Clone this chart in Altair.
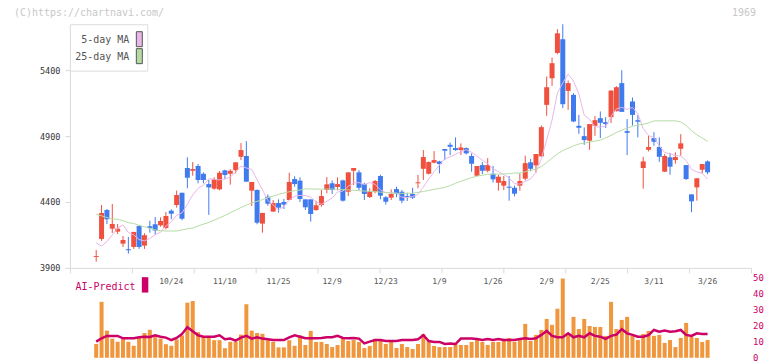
import altair as alt
import pandas as pd

# ---------------- data ----------------
opens = [3983, 4120, 4339, 4198, 4175, 4084, 4042, 4059, 4218, 4069,
         4216, 4231, 4223, 4203, 4334, 4377, 4470, 4658, 4637, 4673,
         4614, 4536, 4501, 4496, 4640, 4614, 4642, 4743, 4749, 4486,
         4491, 4236, 4440, 4327, 4392, 4400, 4415, 4574, 4562, 4420,
         4420, 4339, 4377, 4491, 4542, 4514, 4564, 4478, 4637, 4625,
         4536, 4438, 4478, 4597, 4436, 4433, 4498, 4478, 4445, 4461,
         4542, 4652, 4614, 4698, 4708, 4802, 4834, 4809, 4794, 4809,
         4749, 4599, 4680, 4637, 4614, 4546, 4524, 4516, 4508, 4524,
         4577, 4701, 4678, 4746, 5137, 5339, 5531, 5635, 5243, 5213,
         4978, 4900, 4865, 4978, 5036, 5006, 5044, 5089, 5302, 4938,
         5163, 5021, 4658, 4796, 4885, 4817, 4630, 4739, 4718, 4804,
         4680, 4458, 4511, 4645, 4708]
highs = [4036, 4377, 4347, 4385, 4233, 4142, 4135, 4173, 4223, 4163,
         4258, 4286, 4284, 4324, 4345, 4486, 4470, 4739, 4703, 4688,
         4625, 4567, 4587, 4635, 4645, 4648, 4701, 4847, 4862, 4552,
         4496, 4317, 4458, 4415, 4420, 4423, 4622, 4595, 4587, 4420,
         4420, 4410, 4491, 4589, 4564, 4587, 4569, 4625, 4658, 4642,
         4546, 4504, 4567, 4607, 4445, 4496, 4516, 4491, 4470, 4508,
         4605, 4794, 4708, 4786, 4713, 4802, 4852, 4890, 4845, 4814,
         4769, 4673, 4703, 4733, 4673, 4605, 4597, 4597, 4524, 4617,
         4751, 4726, 4764, 4981, 5352, 5496, 5711, 5749, 5322, 5226,
         5061, 4966, 4991, 5052, 5087, 5044, 5249, 5279, 5400, 5029,
         5193, 5059, 4743, 4902, 4930, 4890, 4764, 4773, 4777, 4915,
         4680, 4458, 4580, 4688, 4716]
lows = [3948, 4105, 4233, 4165, 4158, 4059, 4008, 4044, 4044, 4044,
        4167, 4152, 4213, 4193, 4269, 4357, 4261, 4504, 4599, 4542,
        4542, 4302, 4493, 4489, 4572, 4531, 4617, 4718, 4554, 4370,
        4231, 4167, 4372, 4324, 4319, 4347, 4415, 4516, 4400, 4339,
        4251, 4334, 4364, 4466, 4461, 4489, 4403, 4445, 4529, 4491,
        4415, 4430, 4466, 4420, 4380, 4415, 4436, 4390, 4408, 4423,
        4504, 4567, 4610, 4693, 4617, 4718, 4756, 4789, 4756, 4761,
        4630, 4597, 4612, 4625, 4549, 4486, 4491, 4410, 4443, 4486,
        4564, 4633, 4622, 4746, 5054, 5281, 5521, 5112, 5099, 5006,
        4917, 4834, 4796, 4902, 4885, 4961, 4999, 5087, 5084, 4756,
        4981, 4890, 4501, 4784, 4827, 4705, 4627, 4607, 4690, 4751,
        4567, 4322, 4410, 4615, 4610]
closes = [3990, 4317, 4269, 4233, 4198, 4112, 4034, 4173, 4059, 4148,
          4203, 4183, 4256, 4294, 4311, 4453, 4273, 4584, 4650, 4567,
          4567, 4511, 4572, 4622, 4605, 4637, 4701, 4794, 4554, 4552,
          4243, 4317, 4387, 4392, 4357, 4380, 4552, 4536, 4423, 4360,
          4309, 4375, 4445, 4534, 4491, 4536, 4410, 4625, 4658, 4508,
          4461, 4483, 4559, 4448, 4402, 4461, 4461, 4410, 4438, 4433,
          4549, 4741, 4703, 4718, 4688, 4789, 4819, 4794, 4814, 4769,
          4690, 4673, 4637, 4680, 4572, 4592, 4559, 4508, 4463, 4559,
          4695, 4652, 4764, 4968, 5271, 5453, 5680, 5142, 5302, 5011,
          4963, 4870, 4991, 5021, 5001, 4991, 5245, 5271, 5084, 4925,
          5061, 5009, 4708, 4817, 4857, 4743, 4749, 4668, 4741, 4845,
          4574, 4405, 4580, 4688, 4625]
ma5 = [4090, 4065, 4100, 4150, 4201, 4226, 4169, 4150, 4115, 4105,
       4123, 4153, 4170, 4217, 4249, 4299, 4317, 4383, 4454, 4505,
       4528, 4576, 4573, 4568, 4575, 4589, 4627, 4672, 4658, 4648,
       4569, 4492, 4411, 4378, 4339, 4367, 4414, 4443, 4450, 4450,
       4436, 4401, 4382, 4405, 4431, 4476, 4483, 4519, 4544, 4547,
       4532, 4547, 4534, 4492, 4471, 4471, 4466, 4436, 4434, 4441,
       4458, 4514, 4573, 4629, 4680, 4728, 4743, 4762, 4781, 4797,
       4777, 4748, 4717, 4690, 4650, 4631, 4608, 4582, 4539, 4536,
       4557, 4575, 4627, 4728, 4870, 5022, 5227, 5303, 5370, 5318,
       5220, 5058, 5027, 4971, 4969, 4975, 5050, 5106, 5118, 5103,
       5117, 5070, 4957, 4904, 4890, 4827, 4775, 4767, 4752, 4749,
       4715, 4647, 4629, 4618, 4574]
ma25 = [4307, 4295, 4282, 4272, 4269, 4258, 4243, 4237, 4222, 4212,
        4200, 4188, 4183, 4180, 4180, 4180, 4188, 4196, 4203, 4218,
        4232, 4245, 4262, 4280, 4298, 4318, 4338, 4358, 4376, 4393,
        4405, 4418, 4432, 4445, 4458, 4468, 4478, 4486, 4491, 4500,
        4499, 4498, 4498, 4498, 4498, 4497, 4494, 4492, 4489, 4486,
        4483, 4480, 4478, 4475, 4471, 4468, 4466, 4466, 4466, 4467,
        4473, 4480, 4488, 4496, 4503, 4510, 4525, 4542, 4557, 4572,
        4585, 4596, 4603, 4610, 4611, 4612, 4613, 4615, 4620, 4620,
        4630, 4640, 4650, 4668, 4700, 4733, 4765, 4790, 4808, 4826,
        4840, 4847, 4855, 4862, 4870, 4887, 4905, 4928, 4945, 4960,
        4975, 4982, 4990, 5000, 5015, 5016, 5016, 5016, 5016, 5008,
        4980, 4942, 4910, 4885, 4860]
volume = [8.6, 35, 17, 12, 10, 12, 10, 7.5, 13, 15.5,
          17.5, 13.5, 12, 8.5, 7.5, 11.5, 14, 34.5, 35.5, 16,
          13, 13.5, 11, 11, 6, 10, 10, 14.5, 33.5, 17,
          15.5, 15, 11, 10, 6.5, 6.5, 11, 7.5, 14, 8,
          16.8, 9.9, 9.9, 8.6, 6.7, 8, 11.8, 10.5, 11.1, 9.9,
          6.1, 7.4, 11.8, 11.1, 8.6, 9.9, 6.1, 8.6, 6.7, 5.5,
          8.6, 14.9, 10.5, 7.4, 6.7, 6.7, 6.7, 8.6, 8, 8,
          9.9, 11.1, 9.9, 8, 9.9, 9.9, 11.1, 12.4, 9.9, 11.1,
          21.2, 10.5, 14.3, 17.4, 24.3, 20.6, 30.7, 49.6, 14.9, 25.6,
          18, 24.3, 19.9, 19.3, 19.3, 13.7, 35, 18, 23.7, 25.6,
          13.7, 11.1, 14.9, 16.8, 13.7, 14.3, 9.3, 11.1, 6.7, 12.4,
          21.8, 13, 12.4, 9.9, 11.1]
ai_predict = [10.1, 12.2, 13.7, 13.7, 13.7, 12.2, 12.2, 12.2, 12.8, 13.2,
              13, 14.1, 13.2, 12.6, 11.1, 12.4, 14.9, 19.1, 16.6, 14.1,
              13.2, 13.2, 13.2, 14.1, 11.6, 12, 10.7, 12.6, 13.7, 12,
              12.8, 12, 11.6, 11.1, 11.1, 11.1, 12.8, 14.1, 13.2, 12.2,
              12.2, 12.2, 12.4, 12.8, 12.8, 13.7, 12.4, 12.2, 12.4, 12,
              9, 10.1, 11.1, 11.1, 10.5, 10.5, 10.5, 11.1, 11.1, 11.1,
              11.6, 14.1, 10.5, 9.9, 9.9, 8.6, 9, 8.6, 12, 12,
              12, 11.8, 11.1, 11.8, 11.1, 11.8, 11.1, 11.1, 11.1, 11.8,
              12.2, 11.8, 12.2, 14.3, 16.8, 13.7, 12.8, 12.8, 15.3, 12.8,
              13.7, 12.8, 15.3, 13.7, 13.2, 11.8, 13.7, 14.5, 17.9, 15.3,
              14.3, 13.2, 13.2, 14.1, 17.4, 16.3, 17, 16.3, 16.6, 17.4,
              14.3, 13.7, 15.3, 14.9, 14.9]
date_labels = ["10/24", "11/10", "11/25", "12/9", "12/23", "1/9",
               "1/26", "2/9", "2/25", "3/11", "3/26"]
date_label_index = [14, 24, 34, 44, 54, 64, 74, 84, 94, 104, 114]
price_ticks = [3900, 4400, 4900, 5400]
ai_ticks = [0, 10, 20, 30, 40, 50]

# ---------------- tables ----------------
df = pd.DataFrame({
    "i": list(range(len(closes))),
    "open": opens, "high": highs, "low": lows, "close": closes,
    "ma5": ma5, "ma25": ma25, "vol": volume, "ai": ai_predict,
})
df["dir"] = ["up" if c >= o else "down" for o, c in zip(opens, closes)]
df_dates = pd.DataFrame({"i": date_label_index, "label": date_labels})
one = pd.DataFrame({"k": [0]})

# ---------------- styles ----------------
RED = "#f0503e"
BLUE = "#3f7bef"
PINK = "#e9b6e9"
GREEN = "#b5dba4"
ORANGE = "#f0963c"
CRIMSON = "#cc0066"
AXIS = "#d9d9d9"
FONT = "DejaVu Sans Mono"

X_LO, X_HI = -4.9, 122.1
xscale = alt.Scale(domain=[X_LO, X_HI], nice=False, zero=False, padding=0)
xticks = [round(X_LO + (X_HI - X_LO) * k / 11, 3) for k in range(12)]
yscale = alt.Scale(domain=[3900, 5749], nice=False, zero=False, padding=0)

x_top = alt.X("i:Q", scale=xscale, title=None,
              axis=alt.Axis(values=xticks, labels=False, grid=False, tickSize=5,
                            domainColor=AXIS, tickColor=AXIS))
y_axis = alt.Axis(values=price_ticks, format="d", grid=False, tickSize=5, labelPadding=5,
                  labelFont=FONT, labelFontSize=8.5, labelColor="#333333",
                  domainColor=AXIS, tickColor=AXIS, title=None)
color = alt.Color("dir:N", scale=alt.Scale(domain=["up", "down"], range=[RED, BLUE]),
                  legend=None)

base = alt.Chart(df)
wicks = base.mark_rule(strokeWidth=1).encode(
    x=x_top, y=alt.Y("low:Q", scale=yscale, axis=y_axis), y2="high:Q", color=color)
bodies = base.mark_bar(size=5, orient="vertical").encode(
    x=x_top, y=alt.Y("open:Q", scale=yscale, axis=y_axis), y2="close:Q", color=color)
line5 = base.mark_line(color=PINK, strokeWidth=1).encode(
    x=x_top, y=alt.Y("ma5:Q", scale=yscale, axis=y_axis))
line25 = base.mark_line(color=GREEN, strokeWidth=1).encode(
    x=x_top, y=alt.Y("ma25:Q", scale=yscale, axis=y_axis))

ob = alt.Chart(one)
leg_box = ob.mark_rect(fill="white", stroke="#dddddd", strokeWidth=1).encode(
    x=alt.value(0.5), x2=alt.value(78), y=alt.value(0.5), y2=alt.value(47))
sw5 = ob.mark_rect(fill=PINK, stroke="#555555", strokeWidth=1).encode(
    x=alt.value(66.5), x2=alt.value(72.5), y=alt.value(7.5), y2=alt.value(22.5))
sw25 = ob.mark_rect(fill=GREEN, stroke="#555555", strokeWidth=1).encode(
    x=alt.value(66.5), x2=alt.value(72.5), y=alt.value(24.5), y2=alt.value(39.5))
t5 = ob.mark_text(text="5-day MA", align="right", baseline="middle", font=FONT,
                  fontSize=10, color="#555555").encode(x=alt.value(59.5), y=alt.value(16))
t25 = ob.mark_text(text="25-day MA", align="right", baseline="middle", font=FONT,
                   fontSize=10, color="#555555").encode(x=alt.value(59.5), y=alt.value(33))
copy_t = ob.mark_text(text="(C)https://chartnavi.com/", align="left", baseline="top",
                      font=FONT, fontSize=10, color="#c8c8c8").encode(
    x=alt.value(-56), y=alt.value(-16))
code_t = ob.mark_text(text="1969", align="right", baseline="top",
                      font=FONT, fontSize=10, color="#c8c8c8").encode(
    x=alt.value(687), y=alt.value(-16))

top = alt.layer(wicks, bodies, line5, line25, leg_box, sw5, sw25, t5, t25,
                copy_t, code_t).properties(width=682, height=244)

# ---------------- lower panel ----------------
x_bot = alt.X("i:Q", scale=xscale, axis=None)
yb = alt.Scale(domain=[0, 50], nice=False, zero=True, padding=0)
yb_axis = alt.Axis(orient="right", values=ai_ticks, domain=False, ticks=False,
                   grid=False, labelPadding=1.5, labelFont=FONT, labelFontSize=9,
                   labelColor=CRIMSON, title=None)
vol_bars = base.mark_bar(size=4, color=ORANGE, orient="vertical").encode(
    x=x_bot, y=alt.Y("vol:Q", scale=yb, axis=yb_axis))
ai_line = base.mark_line(color=CRIMSON, strokeWidth=2.5).encode(
    x=x_bot, y=alt.Y("ai:Q", scale=yb, axis=yb_axis))
dates = alt.Chart(df_dates).mark_text(font=FONT, fontSize=8, color="#555555",
                                      baseline="middle", align="center").encode(
    x=x_bot, y=alt.value(4.5), text="label:N")
ai_t = ob.mark_text(text="AI-Predict", align="left", baseline="middle", font=FONT,
                    fontSize=10, color=CRIMSON).encode(x=alt.value(5.5), y=alt.value(9))
ai_sw = ob.mark_rect(fill=CRIMSON).encode(
    x=alt.value(72), x2=alt.value(78.5), y=alt.value(-0.7), y2=alt.value(14.7))

bottom = alt.layer(vol_bars, ai_line, dates, ai_t, ai_sw).properties(width=682, height=80)

chart = alt.vconcat(top, bottom, spacing=10, bounds="flush").properties(
    padding={"left": 6, "top": 0, "right": 0, "bottom": 0},
    background="white",
).configure_view(stroke=None)

chart.save("out.html", embed_options={"renderer": "svg", "actions": False})
